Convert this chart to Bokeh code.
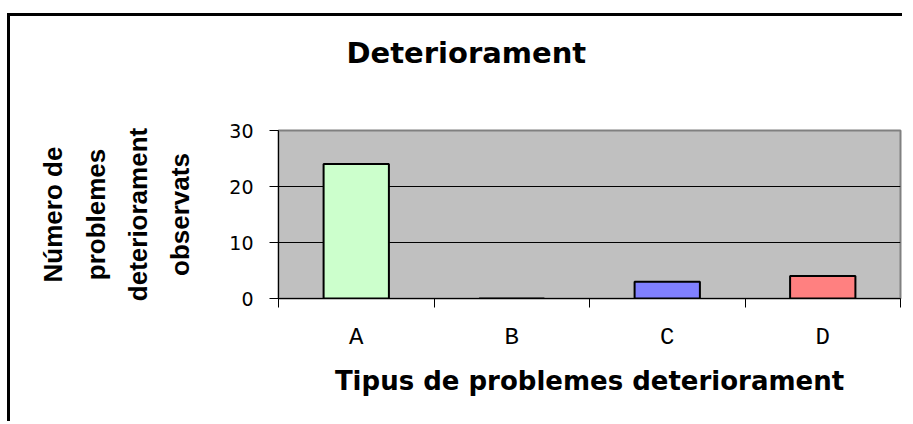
from bokeh.plotting import figure
from bokeh.models import (ColumnDataSource, FactorRange, Range1d, LinearAxis,
                          FixedTicker, Title)
from bokeh.embed import file_html
from bokeh.resources import INLINE

categories = ["A", "B", "C", "D"]
counts = [24, 0, 3, 4]
bar_colors = ["#CCFFCC", "#FFFF99", "#8080FF", "#FF8080"]
y_ticks = [0, 10, 20, 30]
chart_title = "Deteriorament"
x_title = "Tipus de problemes deteriorament"
y_title_lines = ["Número de", "problemes", "deteriorament", "observats"]

source = ColumnDataSource(dict(cat=categories, count=counts, color=bar_colors))

W, H = 895, 408
p = figure(x_range=FactorRange(*categories), y_range=Range1d(y_ticks[0], y_ticks[-1]),
           width=W, height=H, output_backend="svg", toolbar_location=None,
           x_axis_location=None, min_border_left=268, min_border_right=5,
           min_border_top=114, min_border_bottom=126,
           background_fill_color="#C0C0C0", border_fill_color="white",
           outline_line_color="#808080", outline_line_width=2, title=None)
p.styles = {"border-top": "3px solid black", "border-left": "3px solid black",
            "margin-top": "13px", "margin-left": "7px"}

p.vbar(x="cat", top="count", width=0.42, source=source, fill_color="color",
       line_color="black", line_width=2)

centers = [i + 0.5 for i in range(len(categories))]
bounds = list(range(len(categories) + 1))
xaxis = LinearAxis(ticker=FixedTicker(ticks=centers, minor_ticks=bounds),
                   major_label_overrides={c: cat for c, cat in zip(centers, categories)},
                   major_tick_out=0, major_tick_in=0, minor_tick_out=9, minor_tick_in=0,
                   axis_line_color="black", minor_tick_line_color="black",
                   major_label_text_font="Liberation Mono", major_label_text_font_size="24px",
                   major_label_text_color="black", major_label_standoff=16,
                   axis_label=x_title, axis_label_text_font="DejaVu Sans",
                   axis_label_text_font_style="bold", axis_label_text_font_size="26px",
                   axis_label_text_color="black", axis_label_standoff=12)
p.add_layout(xaxis, "below")

yax = p.yaxis[0]
yax.ticker = FixedTicker(ticks=y_ticks)
yax.major_tick_out = 9
yax.major_tick_in = 0
yax.minor_tick_out = 0
yax.minor_tick_in = 0
yax.axis_line_color = "black"
yax.major_tick_line_color = "black"
yax.major_label_text_font = "DejaVu Sans"
yax.major_label_text_font_size = "19px"
yax.major_label_text_color = "black"
yax.major_label_standoff = 16
yax.axis_label = "\n".join(y_title_lines)
yax.axis_label_text_font = "Liberation Sans"
yax.axis_label_text_font_style = "bold"
yax.axis_label_text_font_size = "26px"
yax.axis_label_text_color = "black"
yax.axis_label_text_line_height = 1.41
yax.axis_label_standoff = 31

p.ygrid.ticker = FixedTicker(ticks=y_ticks[1:-1])
p.ygrid.grid_line_color = "black"
p.ygrid.grid_line_width = 1
p.xgrid.visible = False

title = Title(text=chart_title, align="left", offset=68, standoff=0,
              padding=(0, 0, 0, 61), vertical_align="bottom",
              text_font="DejaVu Sans", text_font_style="bold",
              text_font_size="29px", text_color="black")
p.add_layout(title, "above")

open("out.html", "w").write(file_html(p, INLINE))
